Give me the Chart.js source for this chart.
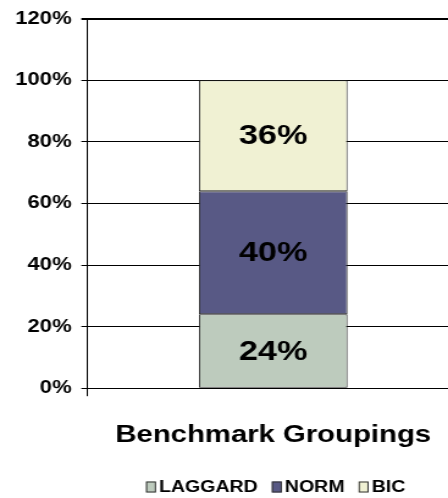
<!DOCTYPE html>
<html>
<head>
<meta charset="utf-8">
<script src="https://cdn.jsdelivr.net/npm/chart.js@4/dist/chart.umd.min.js"></script>
<style>
  html, body { margin: 0; padding: 0; background: #fff; overflow: hidden; width: 448px; height: 498px; }
  #wrap { width: 448px; height: 498px; overflow: hidden; }
  canvas { display: block; }
</style>
</head>
<body>
<div id="wrap">
  <canvas id="c" width="376" height="498" style="width:458.7px;height:498px;"></canvas>
</div>
<script>
// ---- data ----
const categories = ['Benchmark Groupings'];
const seriesNames = ['LAGGARD', 'NORM', 'BIC'];
const laggardValues = [24];
const normValues = [40];
const bicValues = [36];
const yTickValues = [0, 20, 40, 60, 80, 100, 120];
const seriesColors = ['#BDCBBD', '#585985', '#F0F1D3'];

const FONT = "'Liberation Sans', Arial, sans-serif";

const valueLabels = {
  id: 'valueLabels',
  afterDatasetsDraw(chart) {
    const ctx = chart.ctx;
    ctx.save();
    ctx.font = 'bold 28px ' + FONT;
    ctx.fillStyle = '#000';
    ctx.textAlign = 'center';
    ctx.textBaseline = 'middle';
    chart.data.datasets.forEach((ds, i) => {
      const meta = chart.getDatasetMeta(i);
      meta.data.forEach((el, j) => {
        const v = ds.data[j];
        const cy = (el.y + el.base) / 2;
        ctx.fillText(v + '%', el.x, cy + 1);
      });
    });
    ctx.restore();
  }
};

const customLegend = {
  id: 'customLegend',
  afterDraw(chart) {
    const ctx = chart.ctx;
    ctx.save();
    ctx.font = 'bold 16px ' + FONT;
    const boxW = 8.2, boxH = 11, gapText = 2.5, gapItem = 11.5;
    const items = chart.data.datasets.map(ds => ({ label: ds.label, color: ds.backgroundColor }));
    let total = 0;
    items.forEach((it, i) => {
      it.w = ctx.measureText(it.label).width;
      total += boxW + gapText + it.w + (i < items.length - 1 ? gapItem : 0);
    });
    const cx = 225.8;
    const cy = 487;
    let x = cx - total / 2;
    ctx.textBaseline = 'middle';
    ctx.textAlign = 'left';
    items.forEach(it => {
      ctx.fillStyle = it.color;
      ctx.fillRect(x, cy - boxH / 2, boxW, boxH);
      ctx.strokeStyle = '#333';
      ctx.lineWidth = 1;
      ctx.strokeRect(x + 0.5, cy - boxH / 2 + 0.5, boxW - 1, boxH - 1);
      ctx.fillStyle = '#000';
      ctx.fillText(it.label, x + boxW + gapText, cy + 1);
      x += boxW + gapText + it.w + gapItem;
    });
    ctx.restore();
  }
};

new Chart(document.getElementById('c'), {
  type: 'bar',
  data: {
    labels: categories,
    datasets: [
      { label: seriesNames[0], data: laggardValues, backgroundColor: seriesColors[0] },
      { label: seriesNames[1], data: normValues, backgroundColor: seriesColors[1] },
      { label: seriesNames[2], data: bicValues, backgroundColor: seriesColors[2] }
    ].map(d => Object.assign(d, { borderColor: '#222', borderWidth: 1, borderSkipped: false, barPercentage: 0.4, categoryPercentage: 1 }))
  },
  options: {
    responsive: false,
    devicePixelRatio: 1,
    animation: false,
    layout: { padding: { left: 4.6, right: 0, top: 16, bottom: 23 } },
    plugins: {
      legend: { display: false },
      tooltip: { enabled: false }
    },
    scales: {
      x: {
        stacked: true,
        offset: true,
        grid: { display: true, drawOnChartArea: false, drawTicks: true, tickLength: 8, color: '#000', lineWidth: 1 },
        border: { display: true, color: '#000', width: 1 },
        ticks: { display: false },
        title: {
          display: true,
          text: categories[0],
          color: '#000',
          font: { family: FONT, size: 24, weight: 'bold' },
          padding: { top: 25, bottom: 25 }
        }
      },
      y: {
        stacked: true,
        min: 0,
        max: 120,
        afterBuildTicks(scale) { scale.ticks = yTickValues.map(v => ({ value: v })); },
        grid: {
          color: '#000',
          lineWidth: c => (c.tick && c.tick.value === 120 ? 2 : 1),
          tickLength: 5,
          drawTicks: true
        },
        border: { display: true, color: '#000', width: 1 },
        ticks: {
          color: '#000',
          padding: 8,
          font: { family: FONT, size: 18, weight: 'bold' },
          callback: v => v + '%'
        }
      }
    }
  },
  plugins: [valueLabels, customLegend]
});
</script>
</body>
</html>
